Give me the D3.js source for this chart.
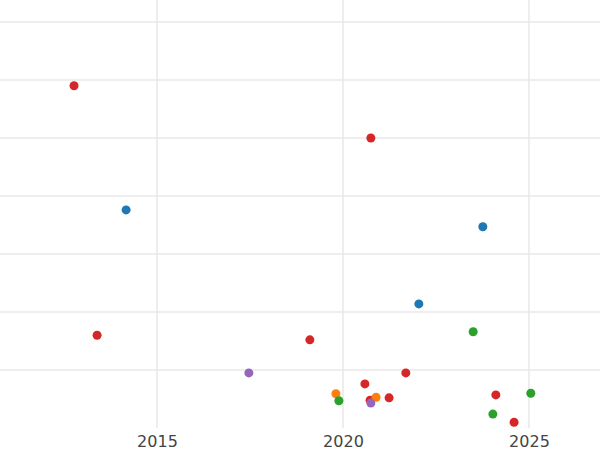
<!DOCTYPE html>
<html>
<head>
<meta charset="utf-8">
<script src="https://cdn.jsdelivr.net/npm/d3@7"></script>
<style>
  body { margin: 0; background: #fff; }
  .tick text { font-family: "DejaVu Sans", sans-serif; font-size: 16px; fill: #444; }
</style>
</head>
<body>
<script>
const width = 600;
const height = 450;

// year, value, group
const years = [2012.77, 2020.75, 2014.17, 2023.76, 2022.04, 2023.5, 2013.39, 2019.11, 2017.47, 2021.69,
  2020.59, 2019.81, 2019.89, 2020.73, 2020.89, 2020.75, 2021.24, 2024.11, 2025.05, 2024.03, 2024.6];
const values = [5.90, 5.00, 3.76, 3.47, 2.14, 1.66, 1.60, 1.52, 0.95, 0.95,
  0.76, 0.59, 0.47, 0.48, 0.53, 0.43, 0.52, 0.57, 0.60, 0.24, 0.10];
const groups = ["red", "red", "blue", "blue", "blue", "green", "red", "red", "purple", "red",
  "red", "orange", "green", "red", "orange", "purple", "red", "red", "green", "green", "red"];
const xTicks = [2015, 2020, 2025];
const yGrid = [1, 2, 3, 4, 5, 6, 7];

const colors = { blue: "#1f77b4", orange: "#ff7f0e", green: "#2ca02c", red: "#d62728", purple: "#9467bd" };

const x = d3.scaleLinear().domain([2010.78, 2026.91]).range([0, width]);
const y = d3.scaleLinear().domain([0, 7]).range([428, 22]);

const svg = d3.select("body").append("svg")
  .attr("width", width)
  .attr("height", height);

svg.append("g")
  .selectAll("line")
  .data(yGrid)
  .join("line")
  .attr("x1", 0).attr("x2", width)
  .attr("y1", d => y(d)).attr("y2", d => y(d))
  .attr("stroke", "#e8e8e8").attr("stroke-width", 1.5);

svg.append("g")
  .selectAll("line")
  .data(xTicks)
  .join("line")
  .attr("x1", d => x(d)).attr("x2", d => x(d))
  .attr("y1", 0).attr("y2", 428)
  .attr("stroke", "#e8e8e8").attr("stroke-width", 1.5);

const axis = svg.append("g")
  .attr("transform", "translate(0,428)")
  .call(d3.axisBottom(x).tickValues(xTicks).tickFormat(d3.format("d")).tickSize(0).tickPadding(8));
axis.select(".domain").remove();

const pts = years.map((yr, i) => ({ yr, v: values[i], g: groups[i] }));
svg.append("g")
  .selectAll("circle")
  .data(pts)
  .join("circle")
  .attr("cx", d => x(d.yr))
  .attr("cy", d => y(d.v))
  .attr("r", 4.5)
  .attr("fill", d => colors[d.g]);
</script>
</body>
</html>
